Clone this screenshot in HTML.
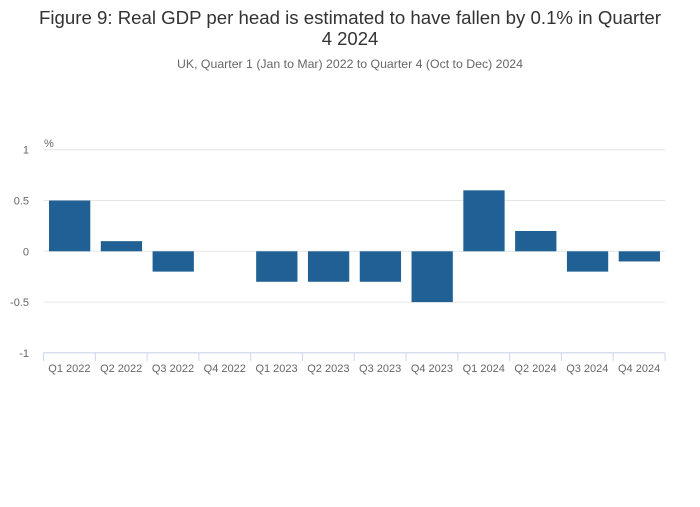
<!DOCTYPE html>
<html><head><meta charset="utf-8"><style>
body{margin:0;background:#fff;font-family:"Liberation Sans",sans-serif}
svg text{font-family:"Liberation Sans",sans-serif}
</style></head><body>
<svg width="700" height="502">
<text x="350" y="24" text-anchor="middle" font-size="18.5" fill="#333" textLength="622" lengthAdjust="spacingAndGlyphs">Figure 9: Real GDP per head is estimated to have fallen by 0.1% in Quarter</text>
<text x="350" y="45" text-anchor="middle" font-size="18.5" fill="#333">4 2024</text>
<text x="350" y="68" text-anchor="middle" font-size="12" fill="#666" textLength="346" lengthAdjust="spacingAndGlyphs">UK, Quarter 1 (Jan to Mar) 2022 to Quarter 4 (Oct to Dec) 2024</text>
<text x="44" y="147" font-size="11" fill="#666">%</text>
<g id="grid"></g><g id="bars"></g><g id="xaxis"></g>
</svg>
<script>
const categories=["Q1 2022","Q2 2022","Q3 2022","Q4 2022","Q1 2023","Q2 2023","Q3 2023","Q4 2023","Q1 2024","Q2 2024","Q3 2024","Q4 2024"];
const values=[0.5,0.1,-0.2,0,-0.3,-0.3,-0.3,-0.5,0.6,0.2,-0.2,-0.1];
const yTicks=[1,0.5,0,-0.5,-1];
const yTickLabels=["1","0.5","0","-0.5","-1"];
const NS="http://www.w3.org/2000/svg";
const L=43.5,R=665,Y0=251.3,K=101.6;
const y=v=>Y0-v*K;
const bw=(R-L)/categories.length;
const x=i=>L+i*bw;
function mk(t,a,p){const e=document.createElementNS(NS,t);for(const k in a)e.setAttribute(k,a[k]);p.appendChild(e);return e;}
const g=document.getElementById('grid'),b=document.getElementById('bars'),xa=document.getElementById('xaxis');
yTicks.forEach((v,i)=>{
 const l=mk('line',{x1:L,x2:R,y1:y(v),y2:y(v),stroke:'#e6e6e6','stroke-width':1},g);
 
 
 const t=mk('text',{x:29,y:y(v)+4,'text-anchor':'end','font-size':11,fill:'#666'},g);
 t.textContent=yTickLabels[i];
 
 
});
values.forEach((v,i)=>{
 const r=mk('rect',{x:x(i)+5.5,width:bw-10.5,y:Math.min(y(v),Y0),height:Math.abs(y(v)-Y0),fill:'#206095'},b);
 
 
});
const ax=mk('line',{x1:L,x2:R,y1:352.7,y2:352.7,stroke:'#ccd6eb'},xa);


for(let i=0;i<=categories.length;i++){
 const tk=mk('line',{x1:x(i),x2:x(i),y1:352.7,y2:361,stroke:'#ccd6eb'},xa);
 
 
}
categories.forEach((c,i)=>{
 const t=mk('text',{x:x(i)+bw/2,y:372,'text-anchor':'middle','font-size':11,fill:'#666'},xa);
 t.textContent=c;
 
 
});
</script>
</body></html>
